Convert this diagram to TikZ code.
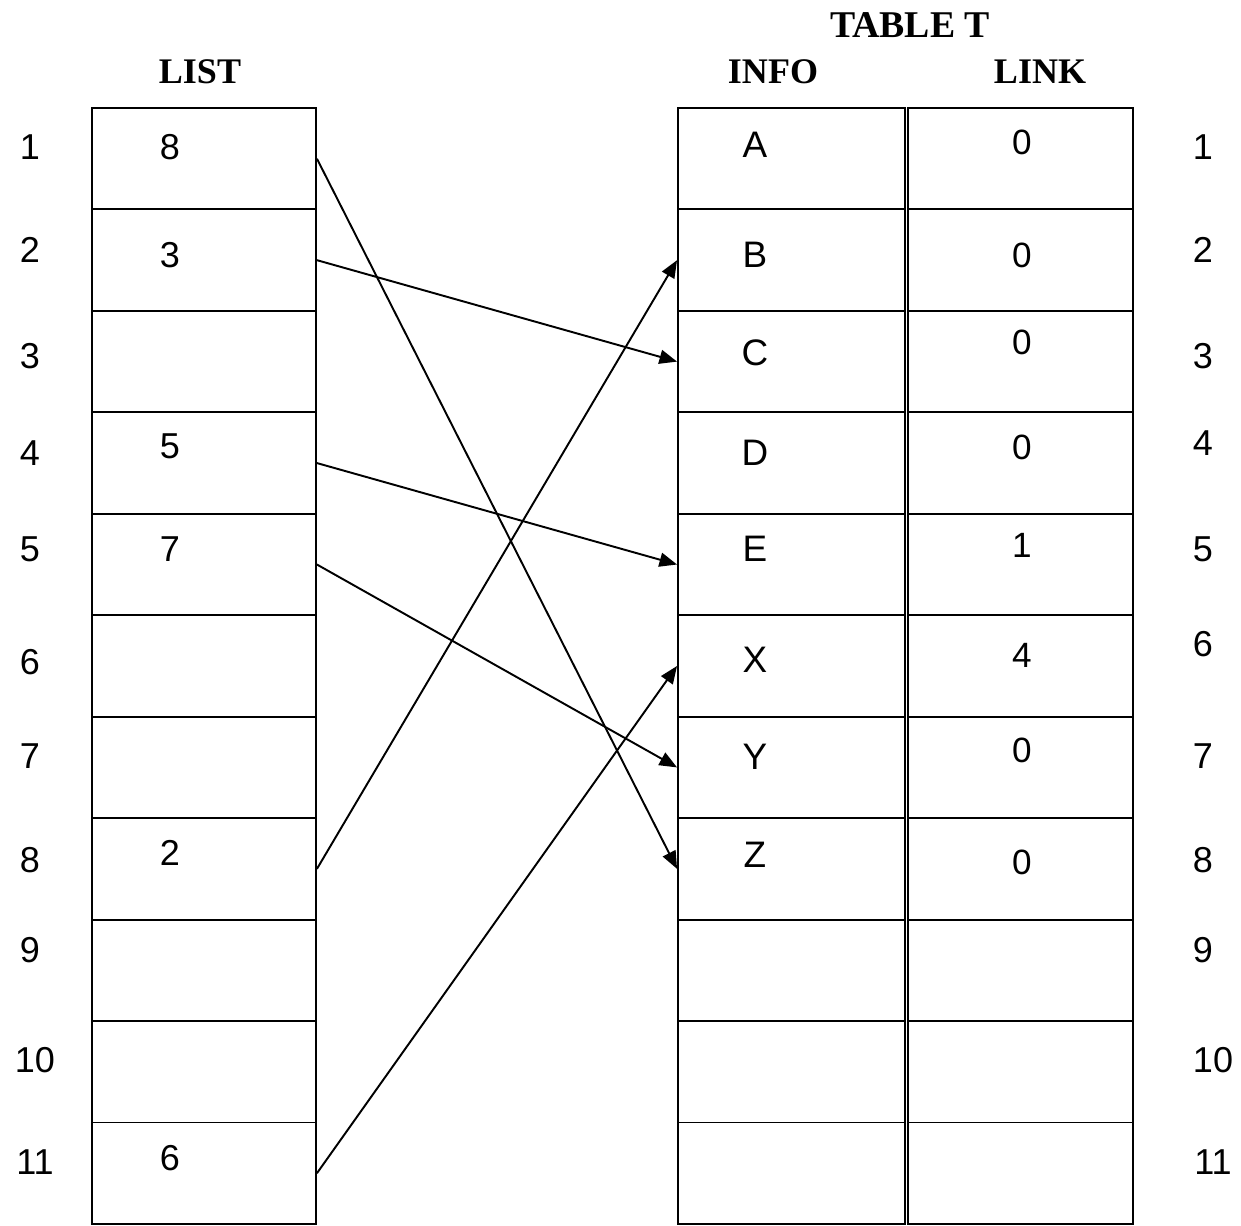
\documentclass[tikz,border=0pt]{standalone}
\usepackage{fontspec}
\setmainfont{Liberation Serif}
\newfontfamily\arialfont{Liberation Sans}
\usetikzlibrary{arrows.meta}

\begin{document}
\begin{tikzpicture}[x=0.02cm,y=-0.02cm,>={Triangle[length=10pt,width=8pt]},line width=1.1pt]
\tikzstyle{cell}=[draw,inner sep=0pt,minimum height=2.029cm]
\tikzstyle{num}=[font=\arialfont\fontsize{20.5}{24}\selectfont,inner sep=0pt]
\tikzstyle{let}=[font=\arialfont\fontsize{21}{25}\selectfont,inner sep=0pt]
\tikzstyle{lnk}=[font=\arialfont\fontsize{20}{24}\selectfont,inner sep=0pt]
\tikzstyle{head}=[font=\bfseries\fontsize{20.5}{24}\selectfont,inner sep=0pt]
\useasboundingbox (0,0) rectangle (1241,1226);
% headers
\node[head] (hlist) at (200,72) {LIST};
\node[head,font=\bfseries\fontsize{21.5}{25}\selectfont] (htab) at (910,25) {TABLE T};
\node[head] (hinfo) at (773,72) {INFO};
\node[head] (hlink) at (1040,72) {LINK};
% the three columns of cells
\foreach \i in {1,...,11}{
  \pgfmathsetmacro\yc{108+(\i-0.5)*101.45}
  \node[cell,minimum width=4.48cm] (l\i) at (204,\yc) {};
  \node[cell,minimum width=4.54cm] (i\i) at (791.5,\yc) {};
  \node[cell,minimum width=4.5cm] (k\i) at (1020.5,\yc) {};
}
% row numbers
\foreach \n/\yl/\yr in {1/147/147,2/250/250,3/356/356,4/453/443,5/549/549,6/662/644,7/756/756,8/860/860,9/950/950}{
  \node[num] (nl\n) at (30,\yl) {\n};
  \node[num] (nr\n) at (1203,\yr) {\n};
}
\node[num] (nl10) at (35,1060) {10};
\node[num] (nr10) at (1213,1060) {10};
\node[num] (nl11) at (35,1162) {11};
\node[num] (nr11) at (1213,1162) {11};
% LIST contents
\node[num] (v1) at (170,147) {8};
\node[num] (v2) at (170,255) {3};
\node[num] (v4) at (170,446) {5};
\node[num] (v5) at (170,549) {7};
\node[num] (v8) at (170,853) {2};
\node[num] (v11) at (170,1158) {6};
% INFO contents
\node[let] (a) at (755,145) {A};
\node[let] (b) at (755,255) {B};
\node[let] (c) at (755,353) {C};
\node[let] (d) at (755,453) {D};
\node[let] (e) at (755,549) {E};
\node[let] (x) at (755,660) {X};
\node[let] (y) at (755,757) {Y};
\node[let] (z) at (755,855) {Z};
% LINK contents
\node[lnk] (k1v) at (1022,142) {0};
\node[lnk] (k2v) at (1022,255) {0};
\node[lnk] (k3v) at (1022,342) {0};
\node[lnk] (k4v) at (1022,447) {0};
\node[lnk] (k5v) at (1022,545) {1};
\node[lnk] (k6v) at (1022,655) {4};
\node[lnk] (k7v) at (1022,750) {0};
\node[lnk] (k8v) at (1022,862) {0};
% pointers from LIST into the table
\draw[->] (l1.east) -- (i8.west);
\draw[->] (l2.east) -- (i3.west);
\draw[->] (l4.east) -- (i5.west);
\draw[->] (l5.east) -- (i7.west);
\draw[->] (l8.east) -- (i2.west);
\draw[->] (l11.east) -- (i6.west);
\end{tikzpicture}
\end{document}
